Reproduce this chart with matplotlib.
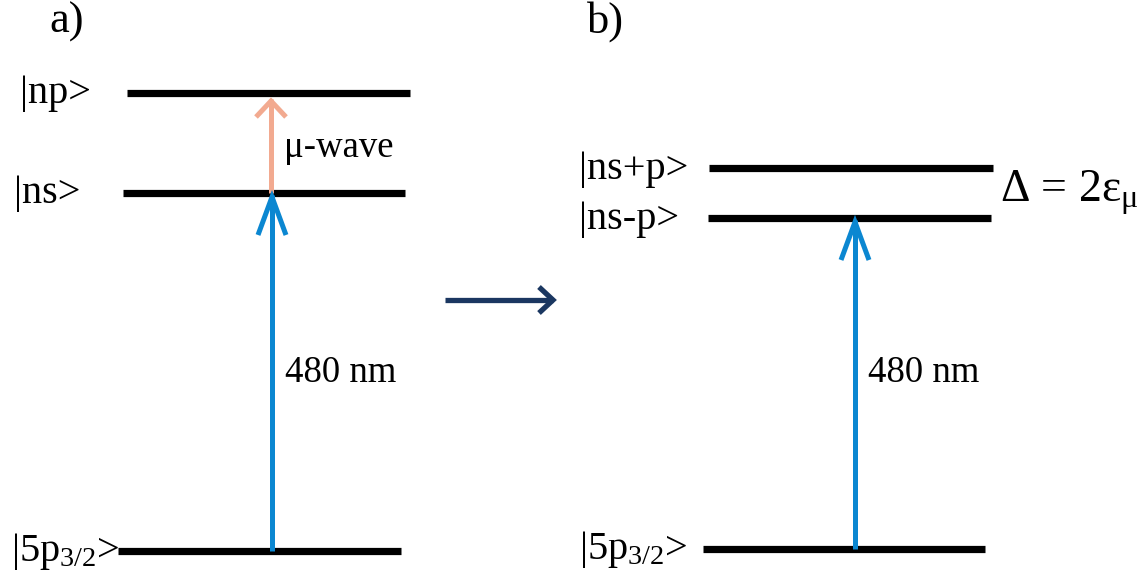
import matplotlib
matplotlib.use("Agg")
import matplotlib.pyplot as plt

plt.rcParams['font.family'] = ['Liberation Serif', 'DejaVu Serif']
plt.rcParams['mathtext.fontset'] = 'custom'
plt.rcParams['mathtext.rm'] = 'Liberation Serif'
plt.rcParams['mathtext.it'] = 'Liberation Serif:italic'

# ---- data (diagram layout in pixel units of the picture) ----
panel_titles = ["a)", "b)"]
title_x = [67, 606]

# panel a levels
a_labels = ["|np>", "|ns>", "|5p$_{3/2}$>"]
a_lab_x = [20, 14, 11]
a_y = [93, 193, 551]
a_x0 = [127, 123, 118]
a_x1 = [410, 405, 401]

# panel b levels
b_labels = ["|ns+p>", "|ns-p>", "|5p$_{3/2}$>"]
b_lab_x = [579, 579, 579]
b_y = [168, 218, 549]
b_x0 = [709, 708, 703]
b_x1 = [993, 991, 985]

# transitions
trans_x = [272, 271, 855]
trans_from = [551, 193, 549]
trans_to = [193, 93, 218]
trans_col = ["#0b87d1", "#f2aa90", "#0b87d1"]
trans_lab = ["480 nm", "μ-wave", "480 nm"]
trans_lab_y = [373, 148, 373]

navy = "#1b3761"

fig = plt.figure(figsize=(11.48, 5.75), dpi=100)
ax = fig.add_axes([0, 0, 1, 1])
ax.set_xlim(0, 1148)
ax.set_ylim(575, 0)
ax.axis('off')

FS_STATE = 29
FS_TRANS = 26.5
LW = 5.2

def level(x0, x1, y):
    ax.plot([x0, x1], [y, y], color='black', lw=LW, solid_capstyle='butt', zorder=2)

def arrow(x, y0, y1, col, head_len=40, head_w=15, lw=3.6, z=3):
    ax.plot([x, x], [y0, y1], color=col, lw=lw, solid_capstyle='butt', zorder=z)
    ax.plot([x - head_w, x, x + head_w], [y1 + head_len, y1 + 2, y1 + head_len],
            color=col, lw=lw, solid_joinstyle='miter', solid_capstyle='butt', zorder=z)

for x0, x1, y, lab, lx in zip(a_x0, a_x1, a_y, a_labels, a_lab_x):
    level(x0, x1, y)
    ax.text(lx, y + 1, lab, fontsize=FS_STATE, ha='left', va='center')
for x0, x1, y, lab, lx in zip(b_x0, b_x1, b_y, b_labels, b_lab_x):
    level(x0, x1, y)
    ax.text(lx, y + 1, lab, fontsize=FS_STATE, ha='left', va='center')

# transitions
arrow(trans_x[1], trans_from[1], trans_to[1] + 6, trans_col[1], head_len=18, head_w=15, z=3)
arrow(trans_x[0], trans_from[0], trans_to[0] + 2, trans_col[0], head_len=40, head_w=14, z=4)
arrow(trans_x[2], trans_from[2], trans_to[2] + 2, trans_col[2], head_len=40, head_w=14, z=4)
for x, yl, lab in zip(trans_x, trans_lab_y, trans_lab):
    ax.text(x + 13, yl, lab, fontsize=FS_TRANS, ha='left', va='center')

# splitting label
ax.text(1000, 193, "Δ = 2ε$_{\\mathrm{μ}}$", fontsize=33, ha='left', va='center')

# panel titles
for t, x in zip(panel_titles, title_x):
    ax.text(x, 22, t, fontsize=32, ha='center', va='center')

# middle arrow
ax.plot([445, 553], [300, 300], color=navy, lw=3.8, solid_capstyle='butt')
ax.plot([539, 553, 539], [287, 300, 313], color=navy, lw=3.8, solid_joinstyle='miter', solid_capstyle='butt')

fig.savefig("out.png", dpi=100)
